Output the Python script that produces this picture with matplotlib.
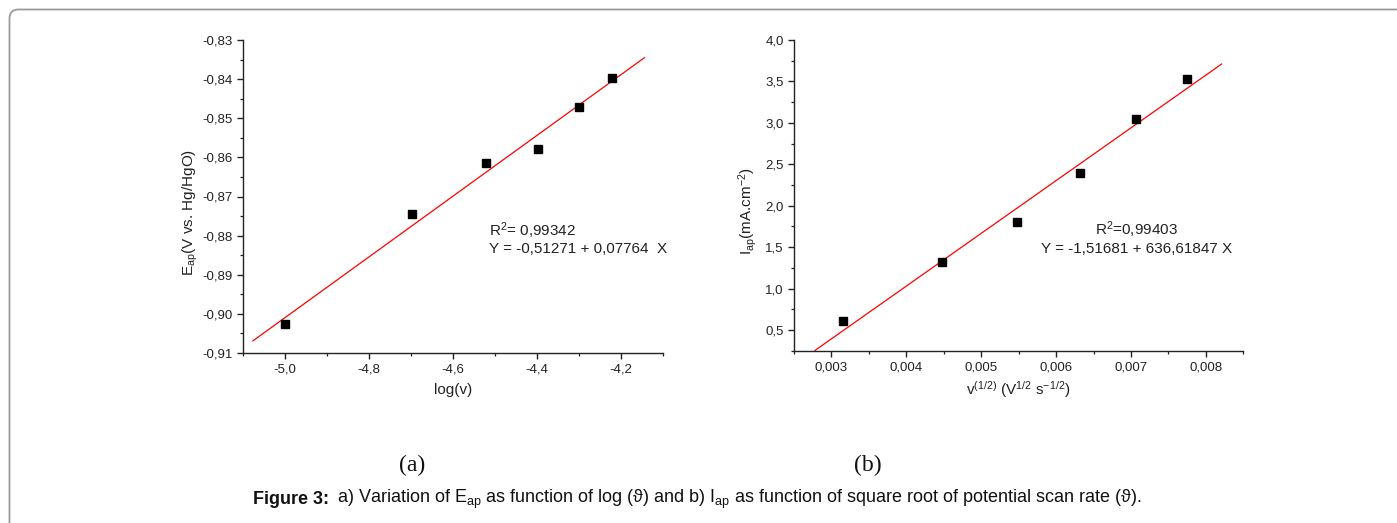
import matplotlib
matplotlib.use("Agg")
import matplotlib.pyplot as plt
import numpy as np
from matplotlib.ticker import MultipleLocator, FuncFormatter
from matplotlib.patches import FancyBboxPatch
from matplotlib.transforms import IdentityTransform

# ---------------- data ----------------
log_v = [-5.0, -4.699, -4.523, -4.398, -4.301, -4.222]
E_ap = [-0.9027, -0.8744, -0.8615, -0.8579, -0.8470, -0.8398]
fit_a_intercept = -0.51271
fit_a_slope = 0.07764
fit_a_x = [-5.077, -4.145]

sqrt_v = [0.00316, 0.00447, 0.00548, 0.00632, 0.00707, 0.00775]
I_ap = [0.608, 1.324, 1.803, 2.395, 3.050, 3.529]
fit_b_intercept = -1.51681
fit_b_slope = 636.61847
fit_b_x = [0.00278, 0.00821]

# ---------------- style ----------------
plt.rcParams['font.family'] = ['Liberation Sans', 'DejaVu Sans']
plt.rcParams['mathtext.fontset'] = 'custom'
plt.rcParams['mathtext.rm'] = 'Liberation Sans'
plt.rcParams['mathtext.it'] = 'Liberation Sans:italic'
plt.rcParams['mathtext.bf'] = 'Liberation Sans:bold'

W, H = 1397, 523
fig = plt.figure(figsize=(W / 100, H / 100), dpi=100)

def px_axes(x0, y0, x1, y1):
    return fig.add_axes([x0 / W, 1 - y1 / H, (x1 - x0) / W, (y1 - y0) / H])

def comma_fmt(nd):
    return FuncFormatter(lambda v, p: f"{v:.{nd}f}".replace('.', ','))

def style_axes(ax):
    for s in ['top', 'right']:
        ax.spines[s].set_visible(False)
    for s in ['left', 'bottom']:
        ax.spines[s].set_linewidth(1.0)
        ax.spines[s].set_color('#222222')
    ax.tick_params(which='major', direction='out', length=4.5, width=1.0,
                   labelsize=9.5, colors='#222222', pad=3)
    ax.tick_params(which='minor', direction='out', length=2.5, width=0.9,
                   colors='#222222')

LBL = 11
ANN = 11

# ---------- panel (a) ----------
ax1 = px_axes(243.3, 40, 663.3, 353)
ax1.set_xlim(-5.1, -4.1)
ax1.set_ylim(-0.91, -0.83)
ax1.xaxis.set_major_locator(MultipleLocator(0.2))
ax1.xaxis.set_minor_locator(MultipleLocator(0.1))
ax1.yaxis.set_major_locator(MultipleLocator(0.01))
ax1.yaxis.set_minor_locator(MultipleLocator(0.005))
ax1.xaxis.set_major_formatter(comma_fmt(1))
ax1.yaxis.set_major_formatter(comma_fmt(2))
style_axes(ax1)

fx = np.array(fit_a_x)
ax1.plot(fx, fit_a_intercept + fit_a_slope * fx, color='#ff0000', lw=0.9, zorder=2)
ax1.plot(log_v, E_ap, 's', color='black', ms=5.5, zorder=3)

ax1.text(0.586, 0.391, r"R$^{\mathrm{2}}$= 0,99342", transform=ax1.transAxes,
         fontsize=ANN, ha='left', va='center', color='#222222')
ax1.text(0.586, 0.331, "Y = -0,51271 + 0,07764  X", transform=ax1.transAxes,
         fontsize=ANN, ha='left', va='center', color='#222222')

ax1.set_xlabel("log(v)", fontsize=LBL, color='#222222', va='center')
ax1.xaxis.set_label_coords(0.5, -(390 - 353) / 313)
ax1.set_ylabel(r"E$_{\mathrm{ap}}$(V vs. Hg/HgO)", fontsize=LBL, color='#222222', va='center')
ax1.yaxis.set_label_coords((190 - 243.3) / 420, 0.45)

# ---------- panel (b) ----------
ax2 = px_axes(794, 40, 1243.3, 350.7)
ax2.set_xlim(0.0025, 0.0085)
ax2.set_ylim(0.25, 4.0)
ax2.xaxis.set_major_locator(MultipleLocator(0.001))
ax2.xaxis.set_minor_locator(MultipleLocator(0.0005))
ax2.yaxis.set_major_locator(MultipleLocator(0.5))
ax2.yaxis.set_minor_locator(MultipleLocator(0.25))
ax2.xaxis.set_major_formatter(comma_fmt(3))
ax2.yaxis.set_major_formatter(comma_fmt(1))
style_axes(ax2)

fx2 = np.array(fit_b_x)
ax2.plot(fx2, fit_b_intercept + fit_b_slope * fx2, color='#ff0000', lw=0.9, zorder=2)
ax2.plot(sqrt_v, I_ap, 's', color='black', ms=5.5, zorder=3)

ax2.text(0.763, 0.388, r"R$^{\mathrm{2}}$=0,99403", transform=ax2.transAxes,
         fontsize=ANN, ha='center', va='center', color='#222222')
ax2.text(0.763, 0.328, "Y = -1,51681 + 636,61847 X", transform=ax2.transAxes,
         fontsize=ANN, ha='center', va='center', color='#222222')

ax2.set_xlabel(r"v$^{\mathrm{(1/2)}}$ (V$^{\mathrm{1/2}}$ s$^{\mathrm{-1/2}}$)",
               fontsize=LBL, color='#222222', va='center')
ax2.xaxis.set_label_coords(0.5, -(390 - 350.7) / 310.7)
ax2.set_ylabel(r"I$_{\mathrm{ap}}$(mA.cm$^{\mathrm{-2}}$)", fontsize=LBL, color='#222222', va='center')
ax2.yaxis.set_label_coords((748 - 794) / 449.3, 0.45)

# ---------- panel labels & caption ----------
fig.text(412 / W, 1 - 465 / H, "(a)", fontsize=17, family='Liberation Serif',
         ha='center', va='center', color='#111111')
fig.text(868 / W, 1 - 465 / H, "(b)", fontsize=17, family='Liberation Serif',
         ha='center', va='center', color='#111111')

fig.text(253 / W, 1 - 499 / H, "Figure 3:", fontsize=13, fontweight='bold',
         ha='left', va='center', color='#111111')
fig.text(337 / W, 1 - 499 / H,
         r"a) Variation of E$_{\mathrm{ap}}$ as function of log (ϑ) and b) I$_{\mathrm{ap}}$ as function of square root of potential scan rate (ϑ).",
         fontsize=13, ha='left', va='center', color='#111111',
         family=['Liberation Sans', 'DejaVu Sans'])

# ---------- rounded border ----------
border = FancyBboxPatch((9.5, -30), 1500, (H - 9.5) + 30,
                        boxstyle="round,pad=0,rounding_size=9",
                        transform=IdentityTransform(), fill=False,
                        edgecolor='#9a9a9a', lw=1.3, clip_on=False)
fig.patches.append(border)

fig.savefig("out.png", dpi=100)
